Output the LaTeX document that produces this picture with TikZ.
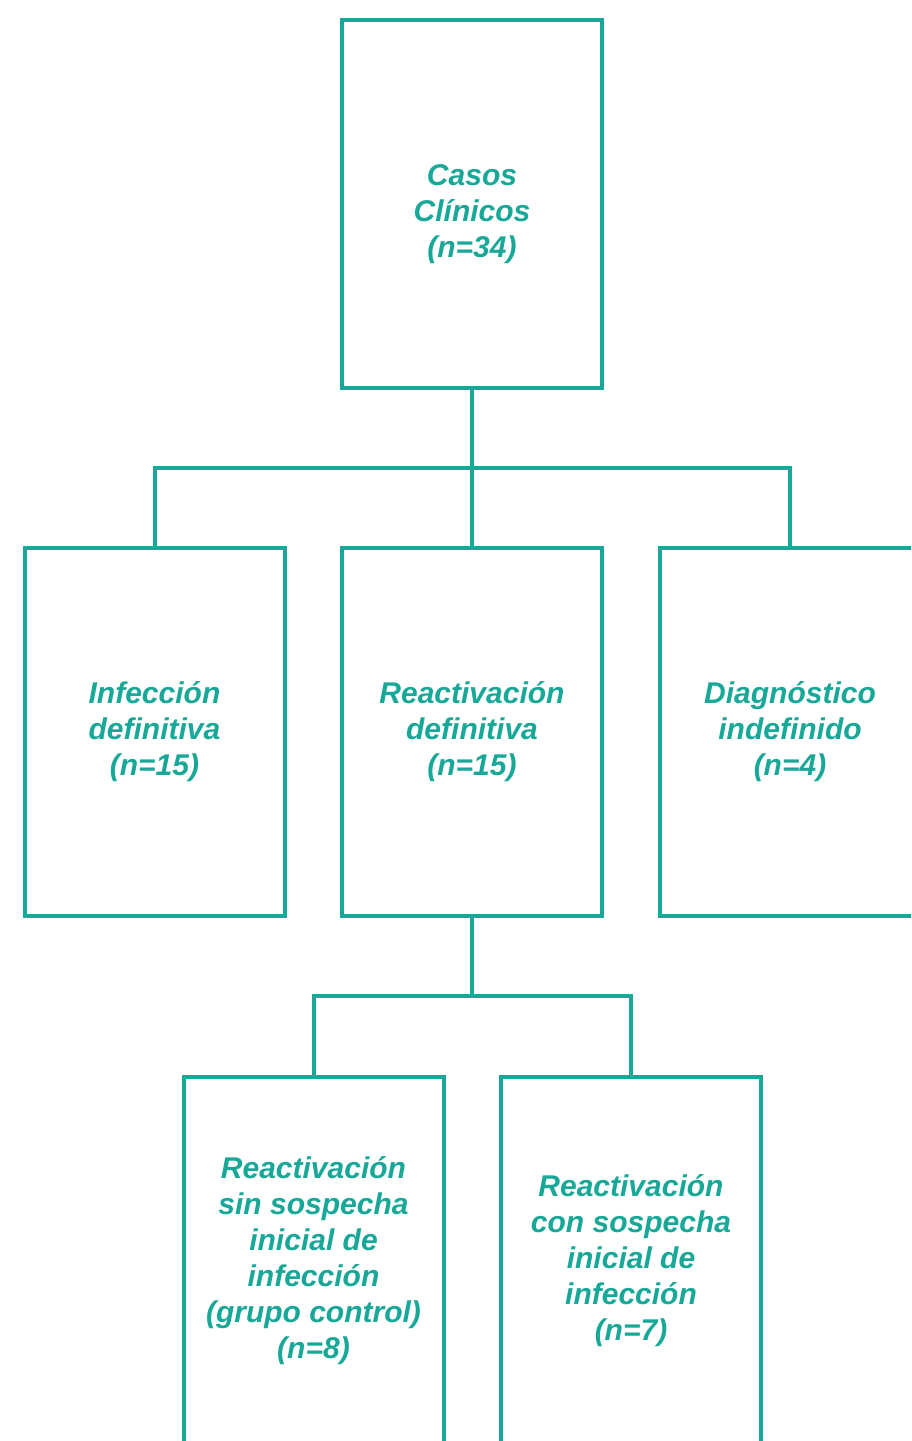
\documentclass[tikz,border=0pt]{standalone}
\usepackage{fontspec}
\setmainfont{Liberation Sans}
\usepackage{tikz}
\definecolor{casoteal}{RGB}{24,168,152}

\begin{document}
\begin{tikzpicture}[
  x=0.5pt, y=-0.5pt,
  every node/.style={font=\fontsize{15}{18}\selectfont\bfseries\itshape, text=casoteal},
  box/.style={draw=casoteal, line width=2pt, fill=white,
              minimum width=130pt, minimum height=184pt,
              inner sep=0pt, align=center},
  link/.style={draw=casoteal, line width=2pt},
]
\useasboundingbox (0,0) rectangle (911,1441);
\fill[white] (0,0) rectangle (911,1441);
\clip (0,0) rectangle (911,1441);

%% ── Top level ────────────────────────────────────────────────────────────────
\node[box] (casos) at (472, 204) {\mbox{}\\[3pt]Casos\\Clínicos\\(n=34)};

%% ── Second level ─────────────────────────────────────────────────────────────
\node[box] (infdef) at (154.5, 732) {Infección\\definitiva\\(n=15)};
\node[box] (reacdef) at (472, 732) {Reactivación\\definitiva\\(n=15)};
\node[box] (diagind) at (790, 732) {Diagnóstico\\indefinido\\(n=4)};

%% ── Third level ──────────────────────────────────────────────────────────────
\node[box] (reacsin) at (313.5, 1261)
  {Reactivación\\sin sospecha\\inicial de\\infección\\(grupo control)\\(n=8)};
\node[box] (reaccon) at (631, 1261)
  {Reactivación\\con sospecha\\inicial de\\infección\\(n=7)};

%% ── Connectors ───────────────────────────────────────────────────────────────
\coordinate (fork1) at (472, 468);
\coordinate (fork2) at (472, 996);

\draw[link] (casos.south) -- (fork1);
\draw[link] (fork1) -| (infdef.north);
\draw[link] (fork1) -| (diagind.north);
\draw[link] (fork1) -- (reacdef.north);

\draw[link] (reacdef.south) -- (fork2);
\draw[link] (fork2) -| (reacsin.north);
\draw[link] (fork2) -| (reaccon.north);

\end{tikzpicture}
\end{document}
